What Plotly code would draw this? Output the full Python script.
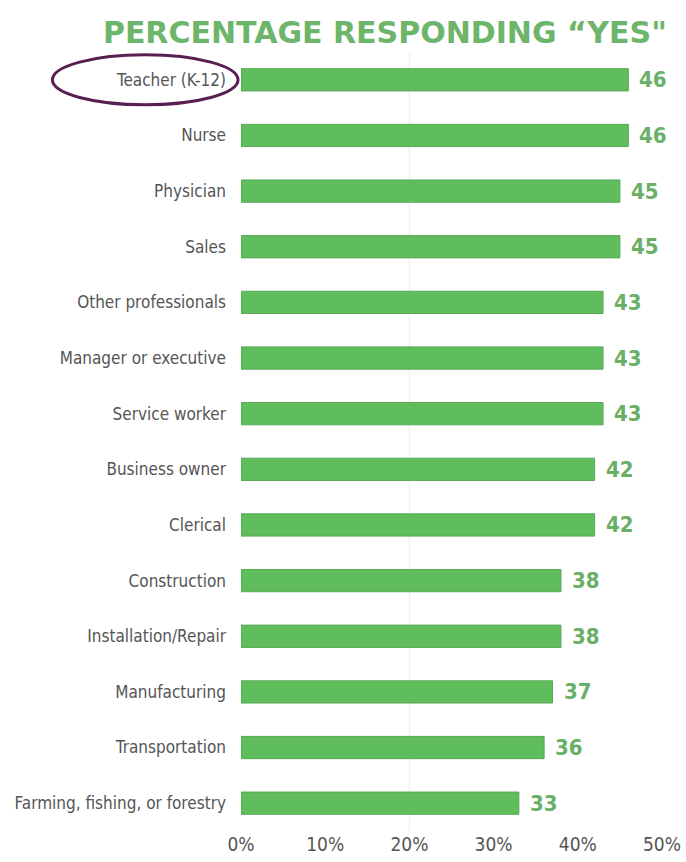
import plotly.graph_objects as go

categories = ["Teacher (K-12)", "Nurse", "Physician", "Sales", "Other professionals",
              "Manager or executive", "Service worker", "Business owner", "Clerical",
              "Construction", "Installation/Repair", "Manufacturing", "Transportation",
              "Farming, fishing, or forestry"]
values = [46, 46, 45, 45, 43, 43, 43, 42, 42, 38, 38, 37, 36, 33]
tick_vals = [0, 10, 20, 30, 40, 50]
tick_text = ["0%", "10%", "20%", "30%", "40%", "50%"]

BAR = "#5fbd5c"
LABEL_GREEN = "#6aaf66"
GRAY = "#555555"
NARROW = "DejaVu Sans Condensed, Liberation Sans Narrow, sans-serif"

fig = go.Figure()
fig.add_trace(go.Bar(
    x=values, y=categories, orientation="h",
    marker=dict(color=BAR, line=dict(color="#58a857", width=1)),
    width=0.4, hoverinfo="x+y",
))

for c, v in zip(categories, values):
    fig.add_annotation(x=v, y=c, xref="x", yref="y", text=str(v), showarrow=False,
                       xanchor="left", xshift=9,
                       font=dict(family=NARROW, size=22, color=LABEL_GREEN, weight="bold"))

# faint gridline
fig.add_shape(type="line", xref="x", yref="paper", x0=20, x1=20, y0=0, y1=1,
              line=dict(color="#ececec", width=1), layer="below")

# ellipse around first category
fig.add_shape(type="circle", xref="paper", yref="y", x0=-0.448, x1=-0.007,
              y0=-0.45, y1=0.45, line=dict(color="#5a1f52", width=3))

fig.update_layout(
    width=686, height=862,
    margin=dict(l=241, r=24, t=52, b=31, autoexpand=False),
    paper_bgcolor="white", plot_bgcolor="white",
    showlegend=False,
    title=dict(text="PERCENTAGE RESPONDING \u201cYES\"", x=0.561, xanchor="center",
               y=0.962, yanchor="middle",
               font=dict(family="DejaVu Sans, sans-serif", size=30, color="#6db56a",
                         weight="bold")),
    xaxis=dict(range=[0, 50], tickvals=tick_vals, ticktext=tick_text, showgrid=False,
               zeroline=False, showline=False, ticks="", automargin=False,
               tickfont=dict(family=NARROW, size=19, color=GRAY), fixedrange=True),
    yaxis=dict(autorange="reversed", showgrid=False, zeroline=False, showline=False,
               ticks="", ticklabelstandoff=14, automargin=False,
               tickfont=dict(family=NARROW, size=17, color=GRAY), fixedrange=True),
)

fig.write_html("out.html")
